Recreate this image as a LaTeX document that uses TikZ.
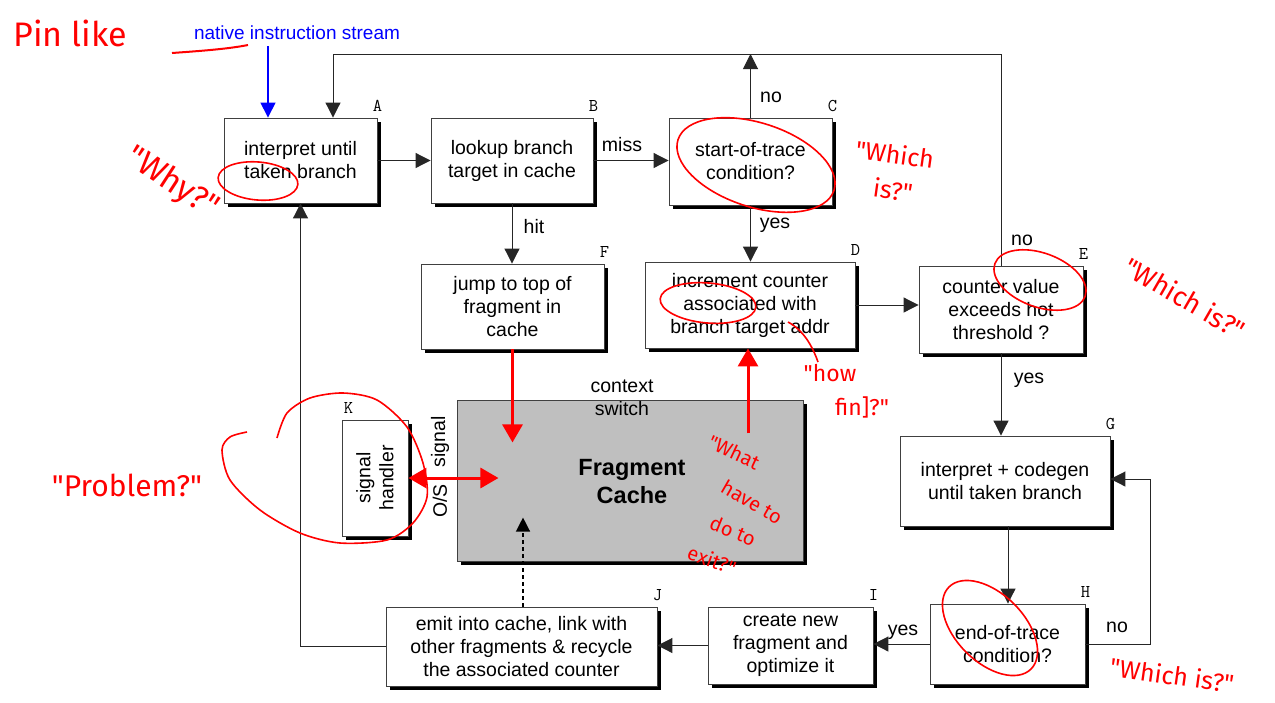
\documentclass[tikz,border=0pt]{standalone}
\usepackage{fontspec}
\setmainfont{Liberation Sans}
\newfontfamily\handfont{Fira Sans}
\usetikzlibrary{arrows.meta,shadows}

\begin{document}
\begin{tikzpicture}[x=1pt,y=-1pt,
  box/.style={draw=black!75, line width=0.9pt, fill=white, align=center, inner sep=0pt,
    font=\fontsize{19.5}{23}\selectfont,
    drop shadow={shadow xshift=4pt,shadow yshift=-4pt,fill=black,opacity=1}},
  cache/.style={box, fill=black!25},
  tag/.style={font=\ttfamily\fontsize{18}{18}\selectfont, inner sep=0pt},
  lbl/.style={font=\fontsize{19.5}{23}\selectfont, inner sep=0pt, align=center},
  arr/.style={draw=black!85, line width=1pt, -{Triangle[length=15pt,width=15pt]}},
  redarr/.style={draw=red, line width=3pt, -{Triangle[length=18pt,width=20pt]}},
  bluearr/.style={draw=blue, line width=1.5pt, -{Triangle[length=15pt,width=15pt]}},
  dasharr/.style={draw=black, line width=1.3pt, dash pattern=on 4pt off 3pt, -{Triangle[length=14pt,width=14pt]}},
  hand/.style={text=red, font=\handfont\fontsize{25}{27}\selectfont, inner sep=0pt, align=center},
  inkmark/.style={draw=red, line width=1.6pt},
]
\useasboundingbox (0,0) rectangle (1275,702);
\fill[white] (0,0) rectangle (1275,702);

% ---------- boxes ----------
\node[box, minimum width=153pt, minimum height=85pt] (A) at (300.5,160.5) {interpret until\\taken branch};
\node[box, minimum width=162pt, minimum height=85pt] (B) at (512,160.5) {lookup branch\\target in cache};
\node[box, minimum width=163pt, minimum height=87pt] (C) at (750.5,161.5) {start-of-trace\\condition?};
\node[box, minimum width=183pt, minimum height=85pt] (F) at (512.5,306.5) {jump to top of\\fragment in\\cache};
\node[box, minimum width=210pt, minimum height=86pt] (D) at (750,305) {increment counter\\associated with\\branch target addr};
\node[box, minimum width=164pt, minimum height=87pt] (E) at (1001,309.5) {counter value\\exceeds hot\\threshold ?};
\node[cache, minimum width=346pt, minimum height=161pt] (FC) at (630,480.5) {};
\node[font=\bfseries\fontsize{23.5}{28}\selectfont, align=center, inner sep=0pt] (FCt) at (632,482) {Fragment\\Cache};
\node[box, minimum width=66pt, minimum height=116pt] (K) at (375,478) {};
\node[lbl, rotate=90] (Kt) at (K.center) {signal\\handler};
\node[box, minimum width=210pt, minimum height=90pt] (G) at (1005,481) {interpret + codegen\\until taken branch};
\node[box, minimum width=155pt, minimum height=80pt] (H) at (1007.5,644) {end-of-trace\\condition?};
\node[box, minimum width=165pt, minimum height=77pt] (I) at (790.5,645.5) {create new\\fragment and\\optimize it};
\node[box, minimum width=271pt, minimum height=79pt] (J) at (521.5,646.5) {emit into cache, link with\\other fragments \& recycle\\the associated counter};

% ---------- box tags ----------
\foreach \b in {A,B,C,D,E,F,G,H,I,J}
  \node[tag, anchor=south east] (t\b) at ([xshift=5pt,yshift=6pt]\b.north east) {\b};
\node[tag, anchor=south west] (tK) at ([xshift=2pt,yshift=6pt]K.north west) {K};

% ---------- input stream ----------
\node[font=\fontsize{19}{22}\selectfont, text=blue, inner sep=0pt] (nis) at (297,33) {native instruction stream};
\draw[bluearr] ([xshift=-32.5pt,yshift=-6pt]A.north |- nis.south) -- ([xshift=-32.5pt]A.north);

% ---------- control flow ----------
\coordinate (topline) at (0,54);
\draw[arr] (A.east) -- (A.east -| B.west);
\draw[arr] (B.east) -- (B.east -| C.west);
\node[lbl] (miss) at (622,145) {miss};
\draw[arr] (C.north) -- (C.north |- topline);
\node[lbl] (cno) at (771,97) {no};
\draw[arr] (E.north) -- (E.north |- topline) -| ([xshift=32.5pt]A.north);
\node[lbl] (eno) at (1022,240) {no};
\draw[arr] (B.south) -- (B.south |- F.north);
\node[lbl] (hit) at (534,227) {hit};
\draw[arr] (C.south) -- (C.south |- D.north);
\node[lbl] (cyes) at (775,225) {yes};
\draw[arr] (D.east) -- (D.east -| E.west);
\draw[arr] (E.south) -- (E.south |- G.north);
\node[lbl] (eyes) at (1029,380) {yes};
\draw[arr] ([xshift=3pt]G.south) -- ([xshift=3pt]G.south |- H.north);
\draw[arr] (H.east) -- ++(65,0) |- ([yshift=2pt]G.east);
\node[lbl] (hno) at (1117,627) {no};
\draw[arr] (H.west) -- (H.west -| I.east);
\node[lbl] (hyes) at (903,632) {yes};
\draw[arr] (I.west) -- (I.west -| J.east);
\draw[arr] (J.west) -| (A.south);

% ---------- fragment cache transfers ----------
\draw[redarr] (F.south) -- ++(0,93);
\draw[redarr] ([xshift=-2pt,yshift=-85pt]D.south) -- ([xshift=-2pt]D.south);
\draw[redarr, {Triangle[length=18pt,width=20pt]}-{Triangle[length=18pt,width=20pt]}] (K.east) -- ++(90,0);
\node[lbl, rotate=90] (sig) at (440,442) {signal};
\node[lbl, rotate=90] (os) at (440,501) {O/S};
\node[lbl] (ctx) at (622,398) {context\\switch};
\draw[dasharr] ([xshift=1.5pt]J.north) -- ++(0,-89);

% ---------- handwritten notes ----------
\node[hand, font=\handfont\fontsize{34}{34}\selectfont] (pin) at (70,33) {Pin like};
\draw[inkmark, line width=2pt] (172,53) .. controls (200,51) and (228,49) .. (248,45);

\node[hand, font=\handfont\fontsize{33}{35}\selectfont, rotate=-33] (why) at (172,183) {"Why?"};
\draw[inkmark, rotate around={-5:(258,181)}] (258,181) ellipse [x radius=40pt, y radius=19pt];

\draw[inkmark, rotate around={-18:(756,165)}] (756,165) ellipse [x radius=82pt, y radius=42pt];
\node[hand, rotate=-8] (wc1) at (895,154) {"Which};
\node[hand, rotate=-8] (wc2) at (893,190) {is?"};

\draw[inkmark, rotate around={-5:(708,303)}] (708,303) ellipse [x radius=48pt, y radius=20pt];
\draw[inkmark] (788,322) .. controls (803,330) and (812,345) .. (818,362);
\node[hand, font=\handfont\fontsize{23}{25}\selectfont] (how1) at (830,373) {"how};
\node[hand, font=\handfont\fontsize{23}{25}\selectfont] (how2) at (862,407) {fin]?"};

\draw[inkmark, rotate around={-20:(1040,280)}] (1040,280) ellipse [x radius=48pt, y radius=27pt];
\node[hand, font=\handfont\fontsize{27}{29}\selectfont, rotate=-30] (we) at (1185,298) {"Which is?"};

\draw[inkmark] plot[smooth] coordinates {(277,438) (287,413) (310,398) (343,393) (377,400) (407,427) (423,463) (427,497) (413,523) (387,540) (340,543) (300,533) (260,510) (230,480) (222,450) (230,437) (247,432)};
\node[hand, font=\handfont\fontsize{30}{32}\selectfont] (prob) at (127,485) {"Problem?"};

\node[hand, font=\handfont\fontsize{20}{22}\selectfont, rotate=-25] (x1) at (734,452) {"What};
\node[hand, font=\handfont\fontsize{20}{22}\selectfont, rotate=-30] (x2) at (752,502) {have to};
\node[hand, font=\handfont\fontsize{20}{22}\selectfont, rotate=-22] (x3) at (733,531) {do to};
\node[hand, font=\handfont\fontsize{20}{22}\selectfont, rotate=-20] (x4) at (712,560) {exit?"};

\draw[inkmark, rotate around={-45:(990,628)}] (990,628) ellipse [x radius=58pt, y radius=34pt];
\node[hand, rotate=-8] (wh) at (1172,675) {"Which is?"};
\end{tikzpicture}
\end{document}
